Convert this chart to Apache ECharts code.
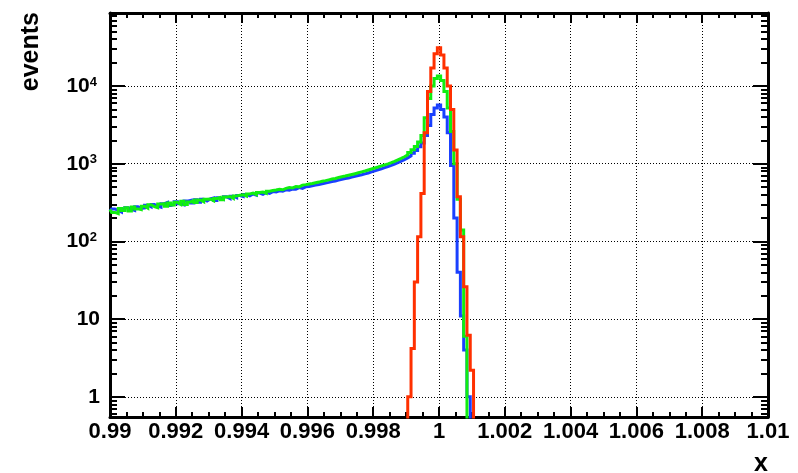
<!DOCTYPE html>
<html>
<head>
<meta charset="utf-8">
<script src="https://cdn.jsdelivr.net/npm/echarts@6/dist/echarts.min.js"></script>
<style>
  html, body { margin: 0; padding: 0; background: #fff; }
  #chart { width: 798px; height: 473px; }
</style>
</head>
<body>
<div id="chart"></div>
<script>
// bin k is centred on xFirst + k * binWidth
const xFirst = 0.99;
const binWidth = 0.0001;

// counts per bin, from bin 0 (x = 0.99)
const blueCounts = [
  245, 262, 250, 238, 255, 272, 258, 250, 280, 266,
  270, 292, 278, 298, 284, 276, 306, 318, 290, 300,
  325, 306, 296, 330, 338, 312, 344, 320, 350, 332,
  352, 362, 336, 366, 350, 375, 356, 382, 366, 390,
  378, 402, 386, 408, 394, 420, 404, 426, 416, 438,
  432, 448, 444, 462, 456, 472, 468, 492, 482, 504,
  510, 520, 530, 540, 552, 565, 575, 590, 600, 615,
  630, 645, 655, 672, 690, 705, 720, 740, 760, 785,
  810, 835, 860, 890, 920, 950, 985, 1030, 1080, 1130,
  1190, 1260, 1360, 1480, 1650, 1850, 2300, 3100, 4300, 5200,
  5700, 5000, 4000, 2500, 950, 200, 40, 11, 4, 1,
  0
];
const greenCounts = [
  258, 236, 228, 266, 250, 272, 246, 278, 262, 256,
  284, 268, 296, 280, 272, 302, 306, 284, 312, 294,
  318, 300, 328, 298, 322, 338, 316, 342, 324, 348,
  352, 334, 358, 368, 344, 372, 378, 358, 384, 392,
  398, 384, 408, 418, 400, 426, 432, 416, 442, 452,
  458, 470, 462, 482, 494, 488, 510, 504, 530, 538,
  548, 556, 570, 580, 594, 606, 620, 634, 646, 664,
  680, 694, 710, 726, 744, 764, 786, 806, 830, 856,
  880, 906, 936, 966, 996, 1030, 1070, 1120, 1170, 1230,
  1300, 1390, 1510, 1660, 1900, 2300, 3900, 6900, 10000, 12500,
  13500, 11800, 8500, 5200, 2600, 1000, 350, 140, 6, 0
];
// red is empty below bin 91
const redFirstBin = 91;
const redCounts = [
  1.0, 4.2, 30, 115, 414, 2500, 8500, 17000, 26000, 31000,
  25000, 17000, 10000, 5000, 1500, 375, 115, 26, 6.2, 2.2,
  0
];

const xMin = 0.99, xMax = 1.01, xStep = 0.002;
const yMin = 0.55, yMax = 87000;
const minorMantissas = [2, 3, 4, 5, 6, 7, 8, 9];
const minorDecades = [0.1, 1, 10, 100, 1000, 10000];

const minorY = [];
minorDecades.forEach(d => minorMantissas.forEach(m => {
  const v = m * d;
  if (v > yMin && v < yMax) minorY.push(v);
}));

const FONT = '"Liberation Sans", Arial, Helvetica, sans-serif';
const FLOOR = 0.01; // empty bins drop below the frame

function histSteps(counts, firstBin) {
  const start = xFirst + (firstBin - 0.5) * binWidth;
  const pts = [];
  if (start >= xMin) pts.push([start, FLOOR]);
  counts.forEach((c, i) => {
    const x0 = Math.max(start + i * binWidth, xMin);
    const x1 = start + (i + 1) * binWidth;
    const v = c > 0 ? c : FLOOR;
    pts.push([x0, v], [x1, v]);
  });
  pts.push([start + counts.length * binWidth, FLOOR]);
  return pts;
}

function histSeries(name, color, counts, firstBin) {
  return {
    name: name,
    type: 'line',
    xAxisIndex: 0,
    yAxisIndex: 0,
    data: histSteps(counts, firstBin),
    symbol: 'none',
    clip: true,
    lineStyle: { color: color, width: 3, join: 'miter' },
    itemStyle: { color: color },
    emphasis: { disabled: true }
  };
}

const dotted = { color: '#000', width: 1, type: [1, 2] };
const frameLine = { show: true, onZero: false, lineStyle: { color: '#000', width: 3 } };

function xAxisDef(pos, withLabels) {
  return {
    type: 'value',
    position: pos,
    min: xMin,
    max: xMax,
    interval: xStep,
    axisLine: frameLine,
    axisTick: { show: true, inside: true, length: 10, lineStyle: { color: '#000', width: 2 } },
    minorTick: { show: true, splitNumber: 4, length: 5, lineStyle: { color: '#000', width: 2 } },
    splitLine: { show: withLabels, lineStyle: dotted },
    axisLabel: {
      show: withLabels,
      color: '#000',
      fontSize: 22,
      fontWeight: 'bold',
      fontFamily: FONT,
      margin: 4,
      showMinLabel: true,
      showMaxLabel: true
    }
  };
}

function yLabel(v) {
  const e = Math.round(Math.log10(v));
  if (Math.abs(v - Math.pow(10, e)) / v > 1e-6) return '';
  if (e < 2) return '{p|' + Math.pow(10, e) + '}';
  return '{b|10}{s|' + e + '}';
}

const yMajor = (pos, withLabels) => ({
  type: 'log',
  position: pos,
  min: yMin,
  max: yMax,
  axisLine: frameLine,
  axisTick: { show: true, inside: true, length: 15, lineStyle: { color: '#000', width: 2 } },
  splitLine: { show: withLabels, lineStyle: dotted },
  axisLabel: {
    show: withLabels,
    showMinLabel: false,
    showMaxLabel: false,
    margin: 10,
    formatter: yLabel,
    rich: {
      p: { fontSize: 21, fontWeight: 'bold', fontFamily: FONT, color: '#000' },
      b: { fontSize: 21, fontWeight: 'bold', fontFamily: FONT, color: '#000',
           padding: [5, 0, 0, 0], lineHeight: 21, verticalAlign: 'bottom' },
      s: { fontSize: 13, fontWeight: 'bold', fontFamily: FONT, color: '#000',
           lineHeight: 16, verticalAlign: 'top', padding: [0, 3, 0, 0] }
    }
  }
});

const yMinor = pos => ({
  type: 'log',
  position: pos,
  min: yMin,
  max: yMax,
  axisLine: { show: false },
  axisLabel: { show: false },
  splitLine: { show: false },
  axisTick: { show: true, inside: true, length: 7, customValues: minorY,
              lineStyle: { color: '#000', width: 2 } }
});

const chart = echarts.init(document.getElementById('chart'), null, { renderer: 'canvas' });
chart.setOption({
  animation: false,
  backgroundColor: '#fff',
  grid: { left: 110, right: 30, top: 13, bottom: 56, containLabel: false, outerBoundsMode: 'none' },
  xAxis: [xAxisDef('bottom', true), xAxisDef('top', false)],
  yAxis: [yMajor('left', true), yMinor('left'), yMajor('right', false), yMinor('right')],
  series: [
    histSeries('blue', '#1a40ff', blueCounts, 0),
    histSeries('green', '#10ee10', greenCounts, 0),
    histSeries('red', '#ff3000', redCounts, redFirstBin)
  ],
  graphic: [
    {
      type: 'text', x: 31, y: 12, rotation: Math.PI / 2,
      style: { text: 'events', font: 'bold 25px ' + FONT, fill: '#000', align: 'right', verticalAlign: 'middle' }
    },
    {
      type: 'text', x: 768, y: 464,
      style: { text: 'x', font: 'bold 25px ' + FONT, fill: '#000', align: 'right', verticalAlign: 'middle' }
    }
  ]
});
</script>
</body>
</html>
